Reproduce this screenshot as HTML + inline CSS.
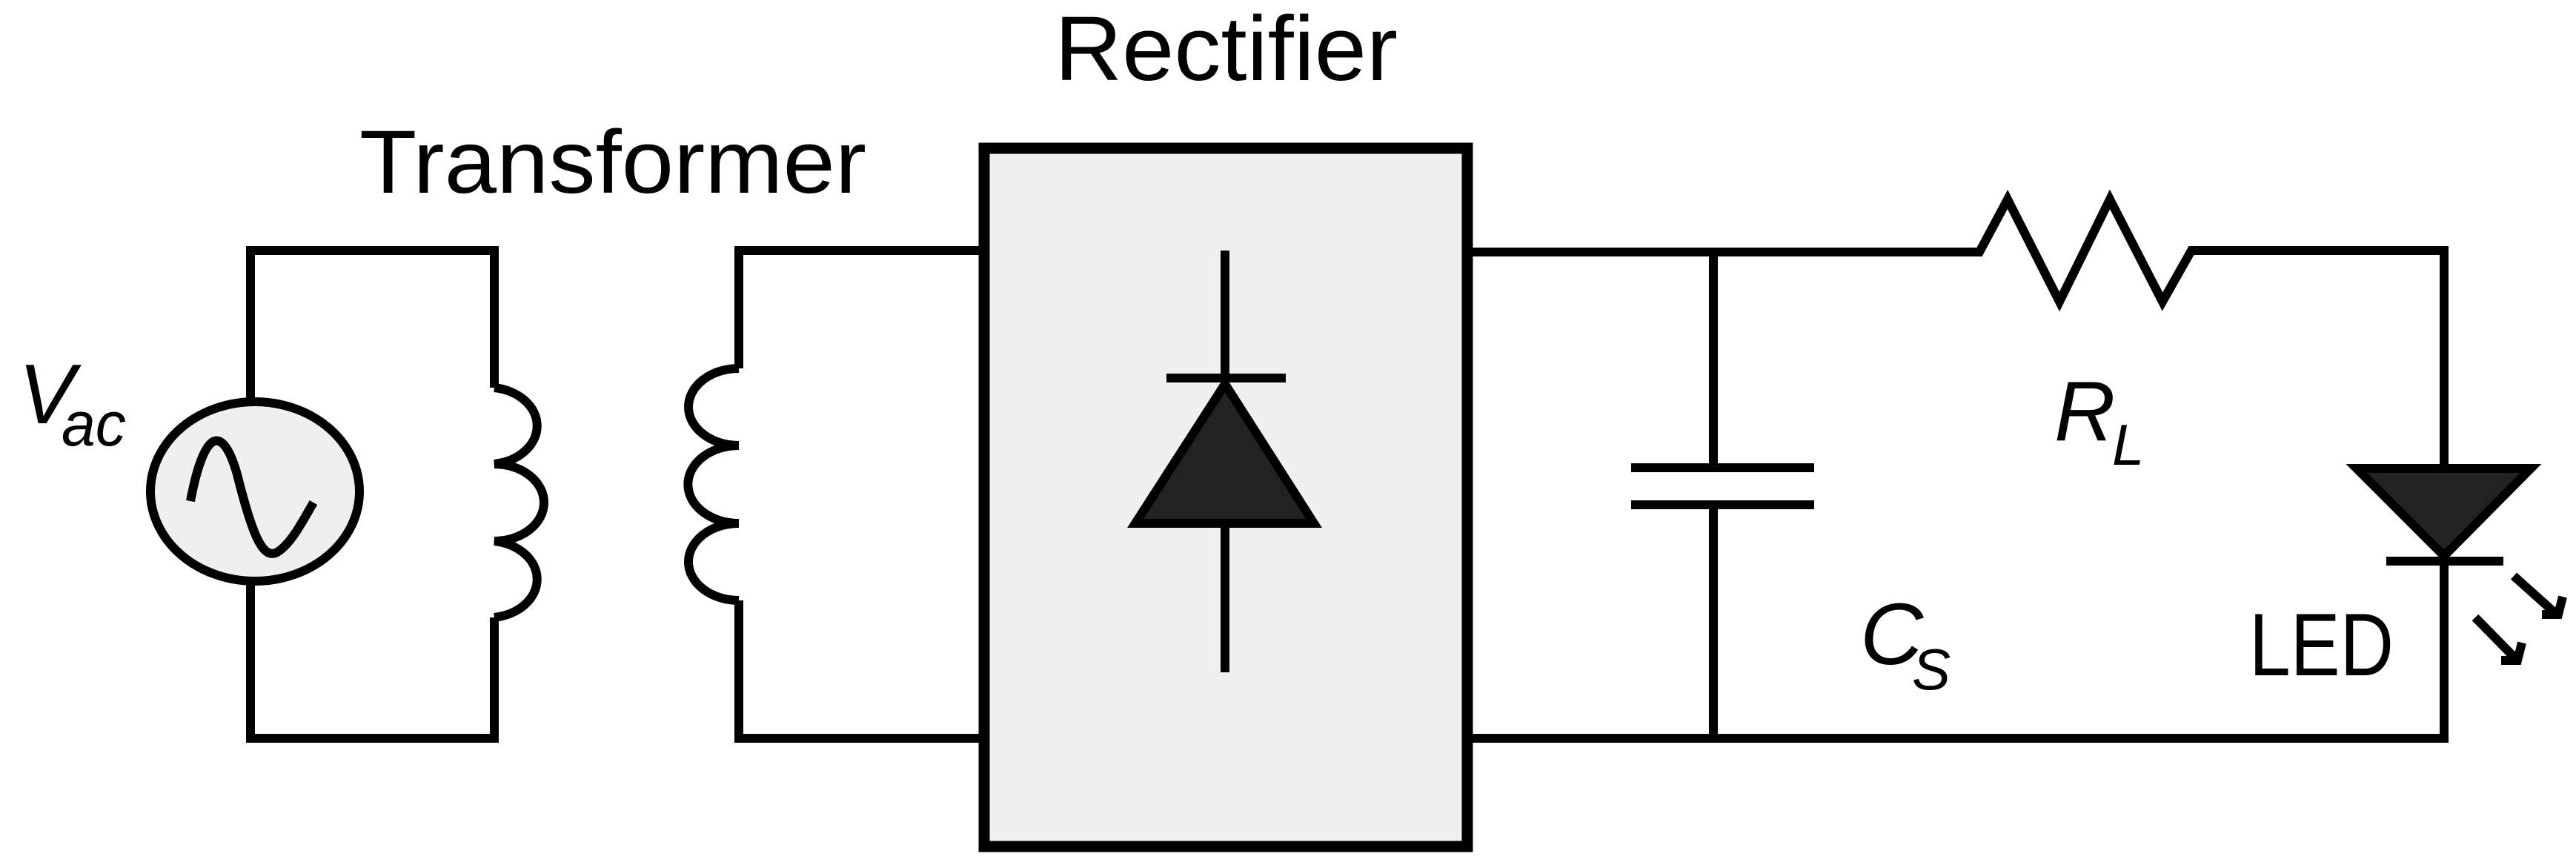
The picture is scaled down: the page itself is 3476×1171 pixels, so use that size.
<!DOCTYPE html>
<html><head><meta charset="utf-8"><style>html,body{margin:0;padding:0;background:#fff}svg{display:block}</style></head>
<body>
<svg width="3476" height="1171" viewBox="0 0 3476 1171" xmlns="http://www.w3.org/2000/svg">
<g fill="none" stroke="#000" stroke-width="12" stroke-linejoin="miter">
<!-- primary loop -->
<path d="M338 542 V338 H667 V523"/>
<path d="M338 784 V996 H667 V833"/>
<path d="M667 523 A67 52 0 0 1 667 626 A67 52 0 0 1 667 730 A67 52 0 0 1 667 833"/>
<ellipse cx="344" cy="663" rx="141" ry="121" fill="#efefef"/>
<path d="M257 676 C275 580 300 570 320 640 C340 720 355 760 377 743 C395 730 410 700 423 678"/>
<!-- secondary -->
<path d="M1321 338 H997 V497"/>
<path d="M1321 996 H997 V810"/>
<path d="M997 497 A68 52 0 0 0 997 601 A68 52 0 0 0 997 706 A68 52 0 0 0 997 810"/>
<!-- rectifier -->
<rect x="1328" y="200" width="652" height="942" fill="#f0f0f0" stroke-width="15"/>
<path d="M1653 338 V515 M1653 709 V907 M1574 510 H1735"/>
<path d="M1653 518 L1532 706 H1773 Z" fill="#222"/>
<!-- output -->
<path d="M1987 340 H2671 L2709 269 L2779 407 L2847 269 L2918 407 L2957 338 H3298 V996 H1987"/>
<path d="M2312 340 V631 M2312 681 V996"/>
<path d="M2201 631 H2448 M2201 681 H2448"/>
<path d="M3180 632 H3415 L3298 750 Z" fill="#222"/>
<path d="M3220 757 H3378"/>
<path d="M3392 777 L3450 829 M3430 829 H3452 L3458 805"/>
<path d="M3340 833 L3395 889 M3375 891 H3397 L3403 867"/>
</g>
<g font-family="'Liberation Sans', sans-serif" fill="#000">
<text x="485" y="260" font-size="121" textLength="684" lengthAdjust="spacingAndGlyphs">Transformer</text>
<text x="1423" y="108" font-size="123" textLength="463" lengthAdjust="spacingAndGlyphs">Rectifier</text>
<text x="25" y="571" font-size="114" font-style="italic">V</text>
<text x="83" y="601" font-size="84" font-style="italic" textLength="87" lengthAdjust="spacingAndGlyphs">ac</text>
<text x="2772" y="594" font-size="114" font-style="italic">R</text>
<text x="2850" y="627" font-size="78" font-style="italic">L</text>
<text x="2510" y="896" font-size="118" font-style="italic">C</text>
<text x="2580" y="930" font-size="78" font-style="italic">S</text>
<text x="3035" y="911" font-size="120" textLength="195" lengthAdjust="spacingAndGlyphs">LED</text>
</g>
</svg>
</body></html>
